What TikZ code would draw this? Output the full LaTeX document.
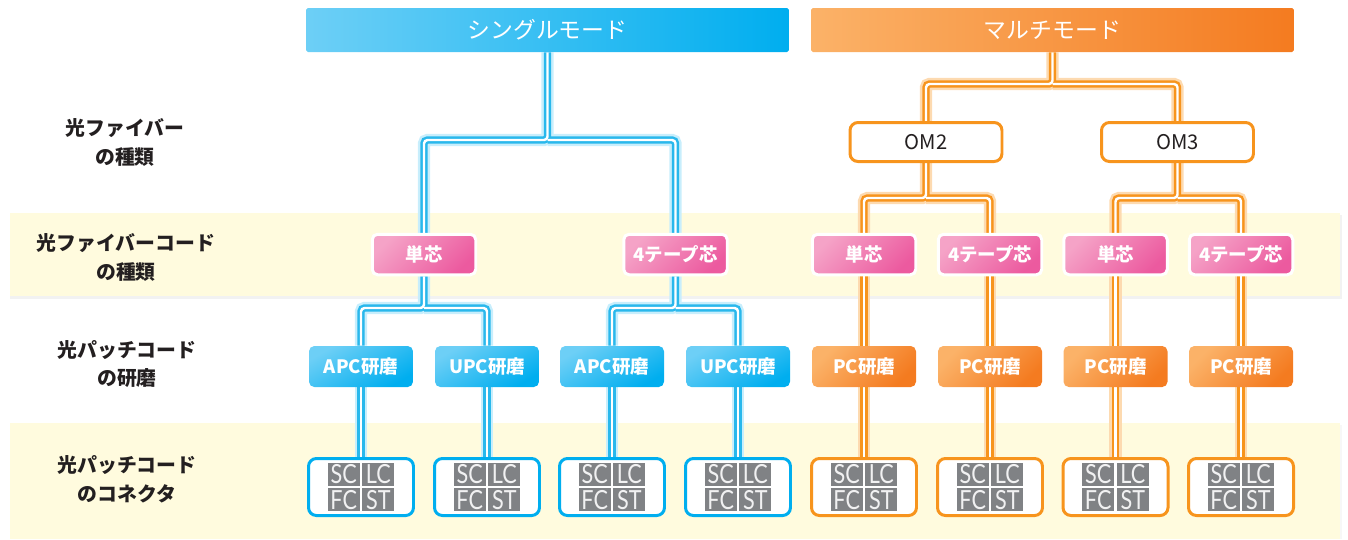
\documentclass[tikz,border=0pt]{standalone}
\usepackage{fontspec}
\newfontfamily\jp{Noto Sans CJK JP}
\newfontfamily\cellfont[FakeStretch=0.82]{Lato}
\pgfdeclarelayer{bands}
\pgfdeclarelayer{lines}
\pgfsetlayers{bands,lines,main}

\definecolor{smblue}{HTML}{00AEEF}
\definecolor{smlight}{HTML}{6DCFF6}
\definecolor{smlinec}{HTML}{29B8EC}
\definecolor{smglowc}{HTML}{C8EEFC}
\definecolor{mmline}{HTML}{F7941D}
\definecolor{mmlight}{HTML}{FBB268}
\definecolor{mmdark}{HTML}{F47B20}
\definecolor{mmglowc}{HTML}{FDDAB0}
\definecolor{pklight}{HTML}{F5A3C7}
\definecolor{pkdark}{HTML}{EC5A9F}
\definecolor{cellgrey}{HTML}{808285}
\definecolor{celltext}{HTML}{F1F1F2}
\definecolor{band}{HTML}{FFFBDE}
\definecolor{textblack}{HTML}{231F20}

\tikzset{
	head/.style={inner sep=0pt, minimum width=9.66cm, minimum height=0.88cm, rounded corners=1pt, text=white, font=\jp\fontsize{13}{15}\selectfont},
	smhead/.style={head, left color=smlight, right color=smblue},
	mmhead/.style={head, left color=mmlight, right color=mmdark},
	omnode/.style={draw=mmline, line width=1.7pt, fill=white, rounded corners=4.5pt, minimum width=3.04cm, minimum height=0.78cm, inner sep=0pt, text=textblack, font=\jp\fontsize{11.5}{13}\selectfont},
	corenode/.style={draw=white, line width=1.7pt, top color=pklight, bottom color=pkdark, shading angle=45, rounded corners=3pt, minimum width=2.07cm, minimum height=0.81cm, inner sep=0pt, text=white, font=\jp\bfseries\fontsize{10.5}{12}\selectfont},
	polish/.style={rounded corners=3pt, minimum width=2.08cm, minimum height=0.82cm, inner sep=0pt, text=white, font=\jp\bfseries\fontsize{10.5}{12}\selectfont},
	apc/.style={polish, top color=smlight, bottom color=smblue, shading angle=30},
	pc/.style={polish, top color=mmlight, bottom color=mmdark, shading angle=45},
	conn/.style={fill=white, line width=1.7pt, rounded corners=4.5pt, minimum width=2.1cm, minimum height=1.14cm, inner sep=0pt},
	smconn/.style={conn, draw=smblue},
	mmconn/.style={conn, draw=mmline},
	cell/.style={fill=cellgrey, text=celltext, minimum width=0.64cm, minimum height=0.46cm, inner sep=0pt, font=\cellfont\fontsize{15}{15}\selectfont},
	rowlabel/.style={align=center, text=textblack, font=\jp\bfseries\fontsize{11.3}{16.4}\selectfont},
	smglow/.style={draw=smglowc, line width=7pt, rounded corners=2pt},
	smline/.style={draw=smlinec, line width=4.2pt, rounded corners=2pt},
	smcore/.style={draw=white, line width=1.4pt, rounded corners=2pt},
	mmglow/.style={draw=mmglowc, line width=7pt, rounded corners=2pt},
	mmline/.style={draw=mmline, line width=4.2pt, rounded corners=2pt},
	mmcore/.style={draw=white, line width=1.4pt, rounded corners=2pt}
}

\begin{document}
\begin{tikzpicture}[x=0.02cm,y=-0.02cm]
	\useasboundingbox (0,0) rectangle (1348,539);
	\begin{pgfonlayer}{bands}
		\fill[black!5] (10,215) rectangle (1342,299);
		\fill[band] (10,213) rectangle (1340,296);
		\fill[black!3] (10,425) rectangle (1342,539);
		\fill[band] (10,423) rectangle (1340,539);
	\end{pgfonlayer}

	\node[rowlabel] (L1) at (125,142.5) {光ファイバー\\の種類};
	\node[rowlabel] (L2) at (126,257.5) {光ファイバーコード\\の種類};
	\node[rowlabel] (L3) at (127,364) {光パッチコード\\の研磨};
	\node[rowlabel] (L4) at (127,479) {光パッチコード\\のコネクタ};

	\node[smhead] (SM) at (547.5,30) {シングルモード};
	\node[mmhead] (MM) at (1052.5,30) {マルチモード};
	\node[omnode] (OM2) at (926,142) {OM2};
	\node[omnode] (OM3) at (1177.5,142) {OM3};

	\foreach \x/\t [count=\i] in {424/単芯,675.5/4テープ芯,864/単芯,990/4テープ芯,1115.5/単芯,1241/4テープ芯}
		\node[corenode] (K\i) at (\x,254.5) {\t};
	\foreach \x/\t [count=\i] in {361/APC,487/UPC,612/APC,738/UPC}
		\node[apc] (P\i) at (\x,366.5) {\t 研磨};
	\foreach \x [count=\i from 5] in {864,990,1115.5,1241}
		\node[pc] (P\i) at (\x,366.5) {PC研磨};
	\foreach \x [count=\i] in {361,487,612,738}
		\node[smconn] (C\i) at (\x,487) {};
	\foreach \x [count=\i from 5] in {864,990,1115.5,1241}
		\node[mmconn] (C\i) at (\x,487) {};
	\foreach \i in {1,...,8}{
		\node[cell,anchor=south east] (C\i sc) at ([shift={(-1,-1)}]C\i.center) {SC};
		\node[cell,anchor=south west] (C\i lc) at ([shift={(1,-1)}]C\i.center) {LC};
		\node[cell,anchor=north east] (C\i fc) at ([shift={(-1,1)}]C\i.center) {FC};
		\node[cell,anchor=north west] (C\i st) at ([shift={(1,1)}]C\i.center) {ST};
	}

	\begin{pgfonlayer}{lines}
		\foreach \ly in {glow,line,core}{
			\draw[sm\ly] (SM.south) -- (SM.south |- 0,140) -| (K1.north);
			\draw[sm\ly] (SM.south |- 0,140) -| (K2.north);
			\draw[sm\ly] (K1.south) -- (K1.south |- 0,308) -| (P1.north);
			\draw[sm\ly] (K1.south |- 0,308) -| (P2.north);
			\draw[sm\ly] (K2.south) -- (K2.south |- 0,308) -| (P3.north);
			\draw[sm\ly] (K2.south |- 0,308) -| (P4.north);
			\foreach \i in {1,...,4}
				\draw[sm\ly] (P\i.south) -- (C\i.north);
			\draw[mm\ly] (MM.south) -- (MM.south |- 0,84) -| (OM2.north);
			\draw[mm\ly] (MM.south |- 0,84) -| (OM3.north);
			\draw[mm\ly] (OM2.south) -- (OM2.south |- 0,198) -| (K3.north);
			\draw[mm\ly] (OM2.south |- 0,198) -| (K4.north);
			\draw[mm\ly] (OM3.south) -- (OM3.south |- 0,198) -| (K5.north);
			\draw[mm\ly] (OM3.south |- 0,198) -| (K6.north);
			\foreach \k/\p in {3/5,4/6,5/7,6/8}
				\draw[mm\ly] (K\k.south) -- (P\p.north);
			\foreach \i in {5,...,8}
				\draw[mm\ly] (P\i.south) -- (C\i.north);
		}
	\end{pgfonlayer}
\end{tikzpicture}
\end{document}
